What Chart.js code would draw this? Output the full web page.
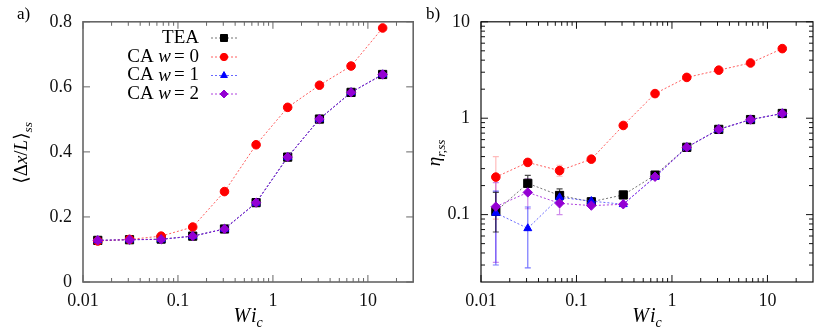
<!DOCTYPE html>
<html>
<head>
<meta charset="utf-8">
<script src="https://cdn.jsdelivr.net/npm/chart.js@4.4.0/dist/chart.umd.min.js"></script>
<style>
  html, body { margin: 0; padding: 0; background: #fff; }
  #wrap { position: relative; width: 830px; height: 332px; }
  #c1 { position: absolute; left: 0; top: 0; }
  #c2 { position: absolute; left: 420px; top: 0; }
</style>
</head>
<body>
<div id="wrap">
  <canvas id="c1" width="420" height="332"></canvas>
  <canvas id="c2" width="410" height="332"></canvas>
</div>
<script>
// Wi_c values (shared by both panels)
const wiValues = [0.0143, 0.0309, 0.0665, 0.143, 0.309, 0.665, 1.43, 3.09, 6.65, 14.3];

// panel a) <dx/L>_ss
const dxTEA = [0.128, 0.130, 0.132, 0.141, 0.163, 0.244, 0.384, 0.501, 0.583, 0.638];
const dxW0  = [0.126, 0.131, 0.141, 0.169, 0.278, 0.422, 0.537, 0.605, 0.664, 0.781];
const dxW1  = [0.128, 0.130, 0.131, 0.141, 0.163, 0.243, 0.384, 0.501, 0.583, 0.638];
const dxW2  = [0.128, 0.130, 0.131, 0.141, 0.163, 0.244, 0.384, 0.501, 0.583, 0.638];

// panel b) eta_r,ss
const etaTEA = [0.108, 0.211, 0.158, 0.136, 0.160, 0.257, 0.499, 0.766, 0.968, 1.12];
const etaW0  = [0.245, 0.348, 0.286, 0.376, 0.841, 1.80, 2.65, 3.15, 3.74, 5.27];
const etaW1  = [0.104, 0.072, 0.151, 0.138, 0.128, 0.245, 0.499, 0.766, 0.968, 1.12];
const etaW2  = [0.121, 0.170, 0.131, 0.124, 0.128, 0.247, 0.499, 0.766, 0.968, 1.12];

// error bars (low / high), null where none is visible
const etaTEALo = [0.066, 0.170, 0.140, null, null, null, null, null, null, null];
const etaTEAHi = [0.170, 0.255, 0.185, null, null, null, null, null, null, null];
const etaW0Lo  = [0.090, 0.325, 0.250, null, null, null, null, null, null, null];
const etaW0Hi  = [0.400, 0.375, 0.325, null, null, null, null, null, null, null];
const etaW1Lo  = [0.030, 0.028, 0.140, null, null, null, null, null, null, null];
const etaW1Hi  = [0.175, 0.120, 0.165, null, null, null, null, null, null, null];
const etaW2Lo  = [0.032, 0.115, 0.100, null, null, null, null, null, null, null];
const etaW2Hi  = [0.215, 0.235, 0.165, null, null, null, null, null, null, null];

// tick labels
const xTicks = [0.01, 0.1, 1, 10];
const yTicksA = [0, 0.2, 0.4, 0.6, 0.8];
const yTicksB = [0.1, 1, 10];

const SERIF = '"Liberation Serif", "DejaVu Serif", serif';

const SERIES = {
  tea: { name: [{ t: 'TEA' }], color: '#000000', line: 'rgba(0,0,0,0.55)', bar: 'rgba(0,0,0,0.7)', style: 'rect', radius: 5.8, order: 4 },
  w0:  { name: [{ t: 'CA ' }, { t: 'w', it: true, gap: 3 }, { t: '= 0' }], color: '#ff0000', line: 'rgba(255,40,40,0.75)', bar: 'rgba(255,60,60,0.35)', style: 'circle', radius: 4.3, order: 3 },
  w1:  { name: [{ t: 'CA ' }, { t: 'w', it: true, gap: 3 }, { t: '= 1' }], color: '#0000ff', line: 'rgba(40,40,255,0.7)', bar: 'rgba(30,30,255,0.6)', style: 'triangle', radius: 4.6, order: 2 },
  w2:  { name: [{ t: 'CA ' }, { t: 'w', it: true, gap: 3 }, { t: '= 2' }], color: '#9400d3', line: 'rgba(148,0,211,0.75)', bar: 'rgba(148,0,211,0.45)', style: 'rectRot', radius: 4.7, order: 1 }
};

function fmt(v) {
  if (v >= 1) return String(Math.round(v));
  return String(parseFloat(v.toPrecision(2)));
}

function partFont(p, size) {
  const s = p.sub ? size * 0.7 : size;
  return (p.it ? 'italic ' : '') + s + 'px ' + SERIF;
}

// draw text made of pieces (italic, subscripts)
function drawRich(ctx, parts, x, y, size, align) {
  let w = 0;
  parts.forEach(p => { ctx.font = partFont(p, size); w += ctx.measureText(p.t).width + (p.gap || 0); });
  let cx = align === 'right' ? x - w : align === 'center' ? x - w / 2 : x;
  ctx.textAlign = 'left';
  ctx.textBaseline = 'middle';
  parts.forEach(p => {
    ctx.font = partFont(p, size);
    ctx.fillText(p.t, cx, y + (p.sub ? size * 0.32 : 0));
    cx += ctx.measureText(p.t).width + (p.gap || 0);
  });
}

function logMinor(min, max) {
  const out = [];
  for (let e = Math.floor(Math.log10(min)); e <= Math.ceil(Math.log10(max)); e++) {
    for (let k = 2; k <= 9; k++) {
      const v = k * Math.pow(10, e);
      if (v > min && v < max) out.push(v);
    }
  }
  return out;
}

const framePlugin = {
  id: 'frame',
  beforeDatasetsDraw(chart) {
    const cfg = chart.options.plugins.frame;
    const ctx = chart.ctx;
    const x = chart.scales.x, y = chart.scales.y;
    // error bars
    (cfg.errors || []).forEach(e => {
      ctx.save();
      ctx.strokeStyle = e.color;
      ctx.lineWidth = 1.2;
      wiValues.forEach((w, i) => {
        if (e.lo[i] == null) return;
        const px = x.getPixelForValue(w);
        const p1 = y.getPixelForValue(e.lo[i]);
        const p2 = y.getPixelForValue(e.hi[i]);
        ctx.beginPath();
        ctx.moveTo(px, p1); ctx.lineTo(px, p2);
        ctx.moveTo(px - 3, p1); ctx.lineTo(px + 3, p1);
        ctx.moveTo(px - 3, p2); ctx.lineTo(px + 3, p2);
        ctx.stroke();
      });
      ctx.restore();
    });
  },
  afterDraw(chart) {
    const cfg = chart.options.plugins.frame;
    const ctx = chart.ctx;
    const a = chart.chartArea;
    const x = chart.scales.x, y = chart.scales.y;
    ctx.save();
    ctx.strokeStyle = cfg.frameColor;
    ctx.lineWidth = cfg.frameWidth;
    ctx.strokeRect(a.left, a.top, a.right - a.left, a.bottom - a.top);

    ctx.lineWidth = 1;
    ctx.beginPath();
    const xt = (v, len) => {
      const px = x.getPixelForValue(v);
      ctx.moveTo(px, a.bottom); ctx.lineTo(px, a.bottom - len);
      ctx.moveTo(px, a.top); ctx.lineTo(px, a.top + len);
    };
    const yt = (v, len) => {
      const py = y.getPixelForValue(v);
      ctx.moveTo(a.left, py); ctx.lineTo(a.left + len, py);
      ctx.moveTo(a.right, py); ctx.lineTo(a.right - len, py);
    };
    xTicks.forEach(v => xt(v, 7));
    logMinor(x.min, x.max).forEach(v => xt(v, 4));
    cfg.yTicks.forEach(v => yt(v, 7));
    if (cfg.yLog) logMinor(y.min, y.max).forEach(v => yt(v, 4));
    ctx.stroke();

    ctx.fillStyle = '#000';
    // panel label
    drawRich(ctx, [{ t: cfg.panel }], cfg.panelX, 15, 17, 'left');
    // x title
    drawRich(ctx, [{ t: 'W', it: true, gap: 1 }, { t: 'i', it: true }, { t: 'c', it: true, sub: true }], (a.left + a.right) / 2, 317, 20, 'center');
    // y title
    ctx.save();
    ctx.translate(cfg.yTitleX, (a.top + a.bottom) / 2 + 1);
    ctx.rotate(-Math.PI / 2);
    drawRich(ctx, cfg.yTitle, 0, 0, 19, 'center');
    ctx.restore();

    // legend
    if (cfg.legend) {
      const rows = [SERIES.tea, SERIES.w0, SERIES.w1, SERIES.w2];
      const ys = [38, 57, 75.5, 94];
      rows.forEach((s, i) => {
        ctx.fillStyle = '#000';
        drawRich(ctx, s.name, 199, ys[i], 19, 'right');
        ctx.save();
        ctx.strokeStyle = s.line;
        ctx.lineWidth = 1;
        ctx.setLineDash([2, 2]);
        ctx.beginPath();
        ctx.moveTo(211, ys[i]); ctx.lineTo(237, ys[i]);
        ctx.stroke();
        ctx.restore();
        ctx.fillStyle = s.color;
        ctx.strokeStyle = s.color;
        Chart.helpers.drawPoint(ctx, { pointStyle: s.style, radius: s.radius * 0.85, rotation: 0, borderWidth: 1 }, 224, ys[i]);
      });
    }
    ctx.restore();
  }
};

function makeChart(id, opts) {
  const datasets = opts.series.map(([s, values]) => ({
    data: wiValues.map((w, i) => ({ x: w, y: values[i] })),
    borderColor: s.line,
    backgroundColor: s.color,
    pointBackgroundColor: s.color,
    pointBorderColor: s.color,
    pointStyle: s.style,
    pointRadius: s.radius,
    pointBorderWidth: 1,
    borderWidth: 1,
    borderDash: [2, 2],
    tension: 0,
    order: s.order
  }));
  const tickFont = { family: SERIF, size: 18 };
  return new Chart(document.getElementById(id), {
    type: 'line',
    data: { datasets },
    options: {
      responsive: false,
      animation: false,
      events: [],
      layout: { padding: { left: 0, top: 16, right: opts.padRight, bottom: 0 } },
      plugins: {
        legend: { display: false },
        tooltip: { enabled: false },
        frame: opts.frame
      },
      scales: {
        x: {
          type: 'logarithmic', min: 0.01, max: 30,
          grid: { display: false, drawTicks: false }, border: { display: false },
          afterBuildTicks: s => { s.ticks = xTicks.map(v => ({ value: v })); },
          ticks: { callback: v => fmt(v), font: tickFont, color: '#111', padding: 8, maxRotation: 0, autoSkip: false },
          afterFit: s => { s.height = 50; }
        },
        y: {
          type: opts.yType, min: opts.yMin, max: opts.yMax,
          grid: { display: false, drawTicks: false }, border: { display: false },
          afterBuildTicks: s => { s.ticks = opts.yTicks.map(v => ({ value: v })); },
          ticks: { callback: v => fmt(v), font: tickFont, color: '#111', padding: 11, autoSkip: false },
          afterFit: s => { s.width = opts.yWidth; }
        }
      }
    },
    plugins: [framePlugin]
  });
}

makeChart('c1', {
  series: [[SERIES.tea, dxTEA], [SERIES.w0, dxW0], [SERIES.w1, dxW1], [SERIES.w2, dxW2]],
  yType: 'linear', yMin: 0, yMax: 0.8, yTicks: yTicksA, yWidth: 83, padRight: 5,
  frame: {
    frameColor: '#666', frameWidth: 1.6, yTicks: yTicksA, yLog: false,
    panel: 'a)', panelX: 17, yTitleX: 22, legend: true,
    yTitle: [{ t: '\u27E8\u0394' }, { t: 'x', it: true }, { t: '/' }, { t: 'L', it: true }, { t: '\u27E9' }, { t: 'ss', it: true, sub: true }]
  }
});

makeChart('c2', {
  series: [[SERIES.tea, etaTEA], [SERIES.w0, etaW0], [SERIES.w1, etaW1], [SERIES.w2, etaW2]],
  yType: 'logarithmic', yMin: 0.02, yMax: 10, yTicks: yTicksB, yWidth: 61, padRight: 17,
  frame: {
    frameColor: '#111', frameWidth: 1.2, yTicks: yTicksB, yLog: true,
    panel: 'b)', panelX: 6, yTitleX: 15, legend: false,
    yTitle: [{ t: '\u03B7', it: true }, { t: 'r,ss', it: true, sub: true }],
    errors: [
      { color: SERIES.w0.bar, lo: etaW0Lo, hi: etaW0Hi },
      { color: SERIES.w2.bar, lo: etaW2Lo, hi: etaW2Hi },
      { color: SERIES.w1.bar, lo: etaW1Lo, hi: etaW1Hi },
      { color: SERIES.tea.bar, lo: etaTEALo, hi: etaTEAHi }
    ]
  }
});
</script>
</body>
</html>
